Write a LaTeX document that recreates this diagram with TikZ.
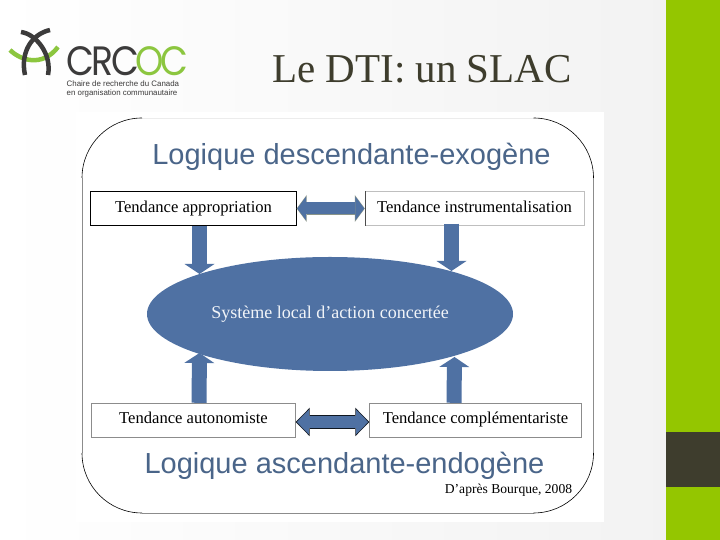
\documentclass[tikz,border=0pt]{standalone}
\usepackage{fontspec}
\setmainfont{Liberation Serif}
\newfontfamily\headfont{Liberation Sans}
\newfontfamily\logofont{Poppins}
\usetikzlibrary{shapes,arrows.meta,calc}
\definecolor{slidegreen}{HTML}{94C600}
\definecolor{slidedark}{HTML}{3E3D2D}
\definecolor{sysblue}{HTML}{4F71A3}
\definecolor{headblue}{HTML}{4A6589}
\definecolor{logodark}{HTML}{3C3B3B}
\definecolor{logogreen}{HTML}{8CC63F}
\definecolor{edgeolive}{HTML}{8A9488}
\tikzstyle{tendance}=[draw=black,
                      fill=white,
                      minimum height=34pt,
                      inner sep=0pt,
                      font=\fontsize{16.6}{16.6}\selectfont]
\tikzstyle{heading}=[anchor=base,text=headblue,font=\headfont\fontsize{29}{29}\selectfont]
\tikzstyle{down}=[draw=sysblue,line width=15pt,-{Triangle[length=10pt,width=30pt,line width=0pt]}]
\tikzstyle{twowaytop}=[draw=sysblue,line width=12pt,shorten <=0.6pt,shorten >=0.6pt,
                       {Triangle[length=8.9pt,width=24pt,line width=0pt]}-{Triangle[length=8.9pt,width=24pt,line width=0pt]}]
\tikzstyle{twowaybottom}=[draw=sysblue,line width=12.6pt,shorten <=1.1pt,shorten >=1.1pt,
                          {Triangle[length=12.1pt,width=24.6pt,line width=0pt]}-{Triangle[length=12.1pt,width=24.6pt,line width=0pt]}]
\tikzstyle{corner}=[draw=black,line width=0.6pt]
\begin{document}
\begin{tikzpicture}[x=1pt,y=1pt]
    \useasboundingbox (0,0) rectangle (720,540);
    % slide background
    \shade[left color=white,middle color=white!97!gray,right color=white!90!gray] (0,0) rectangle (666,540);
    \fill[slidegreen] (666,0) rectangle (720,540);
    \fill[slidedark] (666,53) rectangle (720,108);
    \fill[white] (76,18) rectangle (604,428);
    % rounded frame
    \draw[gray!40,line width=1pt] (142,26) -- (533.5,26);
    \draw[gray!15,line width=0.8pt] (142,422) -- (533.5,422);
    \draw[gray!90,line width=0.8pt] (82,87) -- (82,362) (593.5,87) -- (593.5,362);
    \draw[gray!90,line width=0.8pt] (142,27) -- (533.5,27);
    \draw[corner] (82,362) arc[start angle=180,end angle=90,radius=60];
    \draw[corner] (533.5,422) arc[start angle=90,end angle=0,radius=60];
    \draw[corner] (593.5,87) arc[start angle=0,end angle=-90,radius=60];
    \draw[corner] (142,27) arc[start angle=270,end angle=180,radius=60];
    % logo
    \draw[logogreen,line width=4.5pt] (10,490) .. controls (20,480) and (42,472) .. (58,493);
    \draw[logodark,line width=4.5pt] (21,508) .. controls (36,506) and (52,486) .. (48,465);
    \draw[logodark,line width=4.5pt] (50,510) .. controls (32,506) and (20,488) .. (25,465);
    \node[anchor=base west,inner sep=0pt,font=\logofont\fontsize{41}{41}\selectfont] (logoname) at (66,464.5)
        {\smash{\scalebox{0.88}[1]{\textcolor{logodark}{C\kern-3ptR\kern-2.5ptC}\kern-4pt\textcolor{logogreen}{O\kern-4ptC}}}};
    \node[anchor=north west,inner sep=0pt,align=left,text=logodark,font=\headfont\fontsize{7.9}{9}\selectfont] (logosub) at (66.5,459)
        {Chaire de recherche du Canada\\en organisation communautaire};
    \node[anchor=base,inner sep=0pt,text=slidedark,font=\fontsize{41}{41}\selectfont] (title) at (422,457) {Le DTI: un SLAC};
    % diagram
    \node[heading,inner sep=0pt] (headtop) at (351.5,375) {Logique descendante-exogène};
    \node[heading,inner sep=0pt] (headbottom) at (344.5,66) {Logique ascendante-endogène};
    \node[tendance,minimum width=206pt] (appro) at (193.5,331.5) {Tendance appropriation};
    \node[tendance,minimum width=219pt,draw=gray!50,node distance=281pt,right of=appro] (instr) {\raisebox{4.5pt}{Tendance instrumentalisation}};
    \node[tendance,minimum width=204pt,draw=gray!90,node distance=211.5pt,below of=appro] (auto) {\raisebox{4pt}{Tendance autonomiste}};
    \node[tendance,minimum width=212pt,draw=gray!90,node distance=282pt,right of=auto] (compl) {\raisebox{1pt}{Tendance complémentariste}};
    \draw[black!70,line width=0.6pt] (instr.north west) -- (instr.south west);
    \node[ellipse,fill=sysblue,minimum width=366pt,minimum height=114pt,inner sep=0pt,text=white!92!sysblue,font=\fontsize{18}{18}\selectfont] (sys) at (330,226) {\smash{\raisebox{-5pt}{Système local d’action concertée}}};
    \node[anchor=base,inner sep=0pt,font=\fontsize{13.6}{13.6}\selectfont] (source) at (508.5,46) {D’après Bourque, 2008};
    \coordinate (tipappro) at (199.5,266);
    \coordinate (tipinstr) at (451.5,269);
    \coordinate (tipauto) at (199.5,187);
    \coordinate (tipcompl) at (454.5,183);
    \draw[down] ([xshift=6pt]appro.south) -- (tipappro);
    \draw[down] ([xshift=-23pt,yshift=2pt]instr.south) -- (tipinstr);
    \draw[down] ([xshift=5.5pt]auto.north) -- (tipauto);
    \draw[down] ([xshift=-21.5pt]compl.north) -- (tipcompl);
    \draw[twowaytop,preaction={draw=edgeolive,line width=13pt,shorten <=0pt,shorten >=0pt,{Triangle[length=10pt,width=27pt,line width=0pt]}-{Triangle[length=10pt,width=27pt,line width=0pt]}}] (appro.east) -- (instr.west);
    \draw[twowaybottom,preaction={draw=black!80!sysblue,line width=14pt,shorten <=0pt,shorten >=0pt,{Triangle[length=14pt,width=28.5pt,line width=0pt]}-{Triangle[length=14pt,width=28.5pt,line width=0pt]}}] ([yshift=-2pt]auto.east) -- ([yshift=-2pt]compl.west);
\end{tikzpicture}
\end{document}
